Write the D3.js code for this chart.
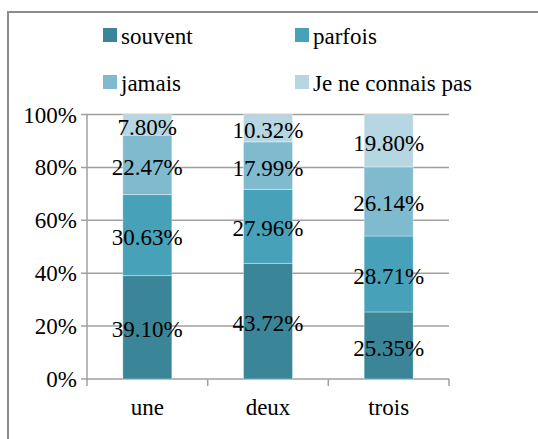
<!DOCTYPE html>
<html><head><meta charset="utf-8"></head>
<body style="margin:0">
<svg width="538" height="439"></svg>
<script src="https://cdnjs.cloudflare.com/ajax/libs/d3/7.8.5/d3.min.js"></script>
<script>
const categories = ["une", "deux", "trois"];
const seriesNames = ["souvent", "parfois", "jamais", "Je ne connais pas"];
const souvent = [39.10, 43.72, 25.35];
const parfois = [30.63, 27.96, 28.71];
const jamais = [22.47, 17.99, 26.14];
const connaisPas = [7.80, 10.32, 19.80];
const yTicks = [0, 20, 40, 60, 80, 100];
const colors = ["#3b8598", "#47a1b8", "#7fbacf", "#b6d7e2"];

const svg = d3.select("svg");

function serif(sel) {
  return sel.style("font-family", '"Liberation Serif", monospace')
    .style("font-size", "23px")
    .attr("fill", "black");
}
function grey(sel) {
  return sel.attr("stroke", "#a0a0a0").attr("stroke-width", 1.5);
}

// outer frame, cut by the window on the right and bottom
svg.append("rect")
    .attr("x", 8).attr("y", 12)
    .attr("width", 560).attr("height", 460)
    .attr("fill", "none")
    .attr("stroke", "#8c8c8c")
    .attr("stroke-width", 2);

const plotL = 87, plotR = 449, plotT = 114.5, plotB = 379;

const x = d3.scaleBand().domain(categories).range([plotL, plotR]).paddingInner(0).paddingOuter(0);
const y = d3.scaleLinear().domain([0, 100]).range([plotB, plotT]);

// gridlines and y ticks
grey(svg.append("g").selectAll("line").data(yTicks).join("line")
    .attr("x1", plotL - 6).attr("x2", plotR)
    .attr("y1", d => y(d)).attr("y2", d => y(d)));
grey(svg.append("line")
    .attr("x1", plotL).attr("x2", plotL)
    .attr("y1", plotT).attr("y2", plotB));

serif(svg.append("g").selectAll("text").data(yTicks).join("text"))
    .attr("text-anchor", "end")
    .attr("x", plotL - 10)
    .attr("y", d => y(d))
    .attr("dy", "0.35em")
    .text(d => d + "%");

// x separators and labels
grey(svg.append("g").selectAll("line").data(d3.range(categories.length + 1)).join("line")
    .attr("x1", i => plotL + i * x.step()).attr("x2", i => plotL + i * x.step())
    .attr("y1", plotB).attr("y2", plotB + 7));

serif(svg.append("g").selectAll("text").data(categories).join("text"))
    .attr("text-anchor", "middle")
    .attr("x", d => x(d) + x.bandwidth() / 2)
    .attr("y", plotB + 36)
    .text(d => d);

// stacked data
const values = [souvent, parfois, jamais, connaisPas];
const rows = categories.map((c, i) => {
  const r = { cat: c };
  seriesNames.forEach((s, k) => r[s] = values[k][i]);
  return r;
});
const stacked = d3.stack().keys(seriesNames)(rows);

const barW = 49;
const bars = svg.append("g");
stacked.forEach((layer, k) => {
  bars.selectAll(null).data(layer).join("rect")
    .attr("x", d => x(d.data.cat) + x.bandwidth() / 2 - barW / 2)
    .attr("width", barW)
    .attr("y", d => y(d[1]))
    .attr("height", d => y(d[0]) - y(d[1]))
    .attr("fill", colors[k])
    .attr("stroke", "rgba(255,255,255,0.35)")
    .attr("stroke-width", 1);
});

const labels = svg.append("g");
stacked.forEach((layer, k) => {
  serif(labels.selectAll(null).data(layer).join("text"))
    .attr("text-anchor", "middle")
    .attr("dy", "0.35em")
    .attr("x", d => x(d.data.cat) + x.bandwidth() / 2)
    .attr("y", d => y((d[0] + d[1]) / 2) + 2)
    .text(d => (d[1] - d[0]).toFixed(2) + "%");
});

// legend
const legendPos = [[103, 28], [295, 28], [103, 75], [295, 75]];
const legend = svg.append("g");
seriesNames.forEach((s, k) => {
  const [lx, ly] = legendPos[k];
  legend.append("rect").attr("x", lx).attr("y", ly).attr("width", 14).attr("height", 14).attr("fill", colors[k]);
  serif(legend.append("text")).attr("x", lx + 18).attr("y", ly + 16).text(s);
});
</script>
</body></html>
